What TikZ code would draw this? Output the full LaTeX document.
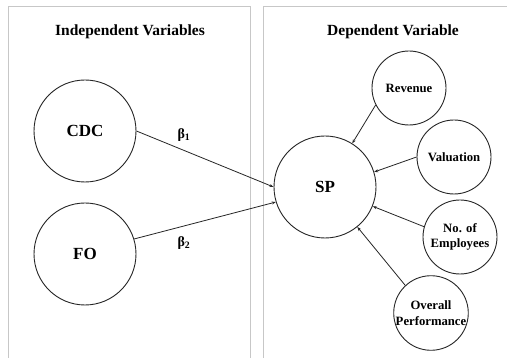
\documentclass[tikz,border=0pt]{standalone}
\usepackage{fontspec}
\setmainfont{Liberation Serif}
\usetikzlibrary{arrows.meta}
\begin{document}
\begin{tikzpicture}[x=1pt,y=-1pt,
  panel/.style={draw=black!22,line width=0.8pt},
  big/.style={circle,draw=black!85,line width=0.9pt,minimum size=102pt,inner sep=0pt,font=\fontsize{17}{19}\selectfont\bfseries},
  small/.style={circle,draw=black!85,line width=0.9pt,minimum size=74pt,inner sep=0pt,align=center,font=\fontsize{12.7}{15.5}\selectfont\bfseries},
  title/.style={font=\fontsize{15.5}{18}\selectfont\bfseries},
  beta/.style={font=\fontsize{14}{16}\selectfont\bfseries},
  arr/.style={draw=black!85,line width=0.8pt,-{Stealth[length=4pt,width=3pt]}}]
\useasboundingbox (0,0) rectangle (507,358);
\fill[white] (0,0) rectangle (507,358);
\draw[panel] (8,362) -- (8,6) -- (250,6) -- (250,362);
\draw[panel] (263,362) -- (263,6) -- (512,6);
\node[title] (t1) at (130,32) {Independent Variables};
\node[title] (t2) at (393,32) {Dependent Variable};
\node[big] (cdc) at (85,131) {CDC};
\node[big] (fo) at (85,254) {FO};
\node[big] (sp) at (325,187) {SP};
\node[small] (rev) at (409,88) {Revenue};
\node[small] (val) at (454,157) {Valuation};
\node[small] (emp) at (460,237) {No. of\\Employees};
\node[small] (ovr) at (431,313) {Overall\\Performance};
\node[beta] (b1) at (184,135) {β\textsubscript{1}};
\node[beta] (b2) at (184,243) {β\textsubscript{2}};
\draw[arr] (cdc.east) -- (sp.west);
\draw[arr] (fo.17) -- (sp.197);
\draw[arr] (rev.207) -- (sp.58);
\draw[arr] (val.180) -- (sp.17);
\draw[arr] (emp.164) -- (sp.-22);
\draw[arr] (ovr.133) -- (sp.-51);
\end{tikzpicture}
\end{document}
